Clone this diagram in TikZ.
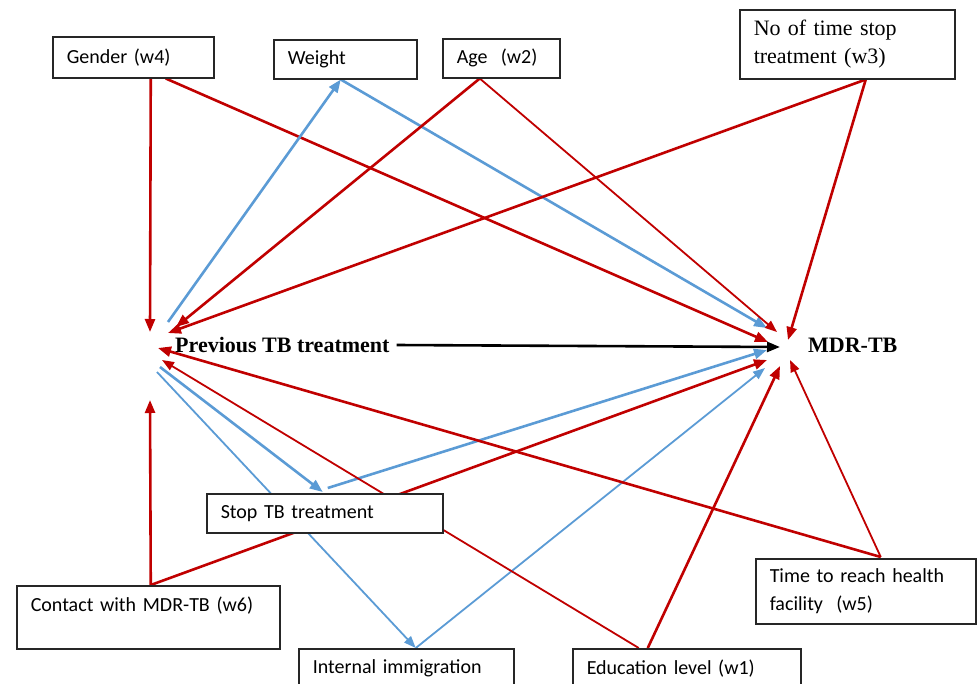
\documentclass[tikz,border=0pt]{standalone}
\usepackage{fontspec}
\setmainfont{Carlito}
\newfontfamily\timesfont{Liberation Serif}
\usetikzlibrary{arrows.meta,calc}
\pgfdeclarelayer{bg}
\pgfsetlayers{bg,main}
\definecolor{linkred}{HTML}{C00000}
\definecolor{linkblue}{HTML}{5B9BD5}
\tikzset{
  varbox/.style={draw=black!85, line width=1.5pt, fill=white, anchor=north west,
    align=left, inner xsep=14pt, inner ysep=0pt, font=\fontsize{20}{28}\selectfont},
  hub/.style={anchor=west, inner sep=0pt, font=\timesfont\bfseries\fontsize{22}{26}\selectfont},
  redthick/.style={draw=linkred, line width=2.6pt, -{Triangle[length=13pt,width=10pt]}},
  redthin/.style={draw=linkred, line width=1.8pt, -{Triangle[length=12pt,width=9pt]}},
  bluethick/.style={draw=linkblue, line width=2.6pt, -{Triangle[length=13pt,width=10pt]}},
  bluethin/.style={draw=linkblue, line width=1.8pt, -{Triangle[length=12pt,width=9pt]}},
  mainlink/.style={draw=black, line width=2.6pt, -{Triangle[length=13pt,width=10pt]}}
}
\begin{document}
\begin{tikzpicture}[x=1pt,y=-1pt]
  \useasboundingbox (0,0) rectangle (977,683);
  \clip (0,0) rectangle (977,683);

  % Drawing the two outcome labels
  \node[hub] (prev) at (175,345) {Previous TB treatment};
  \node[hub] (mdr) at (808,345) {MDR-TB};

  % Drawing boxes of the top row
  \node[varbox, minimum width=161pt, minimum height=41pt, text width=133pt] (gender) at (52,36) {Gender (w4)};
  \node[varbox, minimum width=143pt, minimum height=39pt, text width=115pt] (weight) at (273,39) {Weight};
  \node[varbox, minimum width=117pt, minimum height=39pt, text width=89pt] (age) at (442,38) {Age~ (w2)};
  \node[varbox, minimum width=215pt, minimum height=69pt, text width=187pt,
    font=\timesfont\fontsize{22}{28}\selectfont] (nostop) at (739,9) {No of time stop\\treatment (w3)};

  % Drawing boxes of the bottom part
  \node[varbox, minimum width=236pt, minimum height=39pt, text width=208pt] (stoptb) at (206,493) {Stop TB treatment};
  \node[varbox, minimum width=263pt, minimum height=63pt, text width=235pt, text depth=26pt] (contact) at (16,585) {Contact with MDR-TB (w6)};
  \node[varbox, minimum width=215pt, minimum height=40pt, text width=187pt] (immig) at (298,648) {Internal immigration};
  \node[varbox, minimum width=228pt, minimum height=40pt, text width=200pt] (edu) at (572,648) {Education level (w1)};
  \node[varbox, minimum width=220pt, minimum height=65pt, text width=192pt] (time) at (755,558) {Time to reach health\\facility~ (w5)};

  \begin{pgfonlayer}{bg}
  % Gender
  \draw[redthick] ($(gender.south)+(17.5,0)$) -- ($(prev.west)+(-25,-13)$);
  \draw[redthick] ($(gender.south)+(32.5,0)$) -- ($(mdr.west)+(-40,-3)$);
  % Weight
  \draw[bluethick] ($(prev.west)+(-7,-23)$) -- ($(weight.south)+(-4.5,0)$);
  \draw[bluethick] ($(weight.south)+(-4.5,0)$) -- ($(mdr.west)+(-41,-17)$);
  % Age
  \draw[redthick] ($(age.south)+(-21.5,0)$) -- ($(prev.west)+(1,-18)$);
  \draw[redthin] ($(age.south)+(-21.5,0)$) -- ($(mdr.west)+(-31,-13)$);
  % No of time stop treatment
  \draw[redthick] ($(nostop.south)+(18.5,0)$) -- ($(prev.west)+(-7,-12)$);
  \draw[redthick] ($(nostop.south)+(18.5,0)$) -- ($(mdr.west)+(-20,-5)$);
  % Previous TB treatment
  \draw[bluethick] ($(prev.west)+(-15,22)$) -- ($(stoptb.north)+(-2,-1)$);
  \draw[bluethin] ($(prev.west)+(-18,27)$) -- ($(immig.north)+(9.5,0)$);
  \draw[mainlink] ($(prev.east)+(7,0)$) -- ($(mdr.west)+(-28,2)$);
  % Stop TB treatment
  \draw[bluethick] ($(stoptb.north)+(3,-5)$) -- ($(mdr.west)+(-41,5)$);
  % Contact
  \draw[redthick] ($(contact.north)+(2.5,0)$) -- ($(prev.west)+(-25,55)$);
  \draw[redthick] ($(contact.north)+(2.5,0)$) -- ($(mdr.west)+(-41,15)$);
  % Internal immigration
  \draw[bluethin] ($(immig.north)+(9.5,0)$) -- ($(mdr.west)+(-43,23)$);
  % Education
  \draw[redthin] ($(edu.north)+(-48,0)$) -- ($(prev.west)+(-13,15)$);
  \draw[redthick] ($(edu.north)+(-39,0)$) -- ($(mdr.west)+(-28,21)$);
  % Time to reach
  \draw[redthick] ($(time.north)+(15,-1)$) -- ($(prev.west)+(-17,3)$);
  \draw[redthin] ($(time.north)+(15,-1)$) -- ($(mdr.west)+(-18,15)$);
  \end{pgfonlayer}
\end{tikzpicture}
\end{document}
